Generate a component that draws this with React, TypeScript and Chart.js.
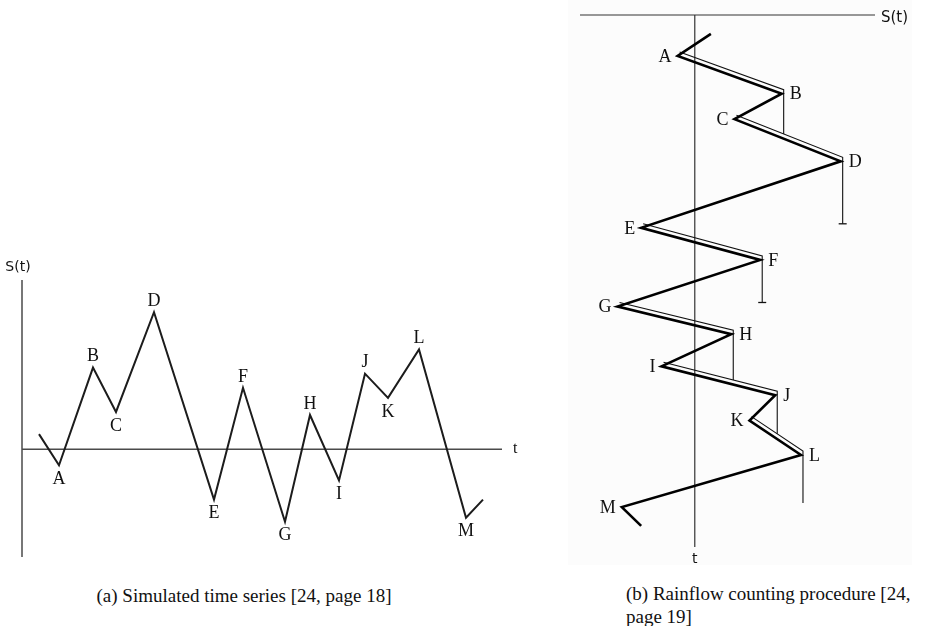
import React, { useEffect, useRef } from "react";
import { Chart, registerables } from "chart.js";

Chart.register(...registerables);

// Turning points of the load history (first and last entries are the unlabelled ends)
const pointNames = ["", "A", "B", "C", "D", "E", "F", "G", "H", "I", "J", "K", "L", "M", ""];
const timeValues = [1.7, 3.7, 7.1, 9.4, 13.2, 19.2, 22.1, 26.3, 28.8, 31.7, 34.3, 36.6, 39.7, 44.4, 46.1];
const stressValues = [1.5, -1.6, 8.1, 3.7, 13.6, -5.0, 6.1, -7.2, 3.4, -3.1, 7.5, 5.1, 9.9, -6.8, -5.0];

// Axis extents
const timeAxisEnd = 48;
const stressAxisMin = -10.7;
const stressAxisMax = 16.8;

// Rainflow paths: each flow starts at a trough, runs to the next peak, then drips down
const flowFrom = ["A", "C", "E", "G", "I", "K"];
const flowPeak = ["B", "D", "F", "H", "J", "L"];
// Where a drip stops: two letters = the later range it lands on, one letter = the point whose time halts it
const flowStop = ["CD", "E", "G", "IJ", "KL", "M"];
// Drips halted by a deeper trough end in a short bar
const flowCapped = [false, true, true, false, false, false];

const idx = (n: string) => pointNames.indexOf(n);

function stopTime(peak: number, stop: string): number {
  if (stop.length === 2) {
    const a = idx(stop[0]);
    const b = idx(stop[1]);
    const s = stressValues[peak];
    const f = (s - stressValues[a]) / (stressValues[b] - stressValues[a]);
    return timeValues[a] + f * (timeValues[b] - timeValues[a]);
  }
  return timeValues[idx(stop)];
}

type Title = { text: string; x: number; y: number; dx: number; dy: number; align: CanvasTextAlign; font: string };

function makeLabelPlugin(cfg: { side: boolean; peakGap: number; troughGap: number; font: string; titles: Title[] }) {
  return {
    id: "turningLabels",
    afterDatasetsDraw(chart: any) {
      const ctx: CanvasRenderingContext2D = chart.ctx;
      const meta = chart.getDatasetMeta(0);
      ctx.save();
      ctx.fillStyle = "#111";
      ctx.textBaseline = "middle";
      ctx.font = cfg.font;
      meta.data.forEach((el: any, i: number) => {
        const name = pointNames[i];
        if (!name) return;
        const peak = stressValues[i] > stressValues[i - 1];
        if (cfg.side) {
          ctx.textAlign = peak ? "left" : "right";
          ctx.fillText(name, el.x + (peak ? cfg.peakGap : -cfg.troughGap), el.y + 1);
        } else {
          ctx.textAlign = "center";
          ctx.fillText(name, el.x, el.y + (peak ? -cfg.peakGap : cfg.troughGap));
        }
      });
      cfg.titles.forEach((t) => {
        ctx.font = t.font;
        ctx.textAlign = t.align;
        const px = chart.scales.x.getPixelForValue(t.x) + t.dx;
        const py = chart.scales.y.getPixelForValue(t.y) + t.dy;
        ctx.fillText(t.text, px, py);
      });
      ctx.restore();
    },
  };
}

// Shifts the thin rainflow lines beside the load path
const flowOffset = {
  id: "flowOffset",
  beforeDatasetDraw(chart: any, args: any) {
    const ds = chart.data.datasets[args.index];
    if (ds.flow) {
      chart.ctx.save();
      chart.ctx.translate(2, -4);
    }
  },
  afterDatasetDraw(chart: any, args: any) {
    const ds = chart.data.datasets[args.index];
    if (ds.flow) chart.ctx.restore();
  },
};

function lineSet(data: { x: number; y: number }[], color: string, width: number, extra: any = {}) {
  return {
    data,
    borderColor: color,
    borderWidth: width,
    pointRadius: 0,
    fill: false,
    tension: 0,
    clip: false,
    borderJoinStyle: "miter",
    ...extra,
  };
}

function timeSeriesConfig(): any {
  const series = timeValues.map((t, i) => ({ x: t, y: stressValues[i] }));
  return {
    type: "line",
    data: {
      datasets: [
        lineSet(series, "#1c1c1c", 2),
        lineSet([{ x: 0, y: stressAxisMin }, { x: 0, y: stressAxisMax }], "#4a4a4a", 1.5),
        lineSet([{ x: 0, y: 0 }, { x: timeAxisEnd, y: 0 }], "#4a4a4a", 1.5),
      ],
    },
    options: {
      animation: false,
      responsive: false,
      events: [],
      layout: { padding: { left: 22, right: 38, top: 30, bottom: 23 } },
      plugins: { legend: { display: false }, tooltip: { enabled: false } },
      scales: {
        x: { type: "linear", min: 0, max: timeAxisEnd, display: false },
        y: { type: "linear", min: stressAxisMin, max: stressAxisMax, display: false },
      },
    },
    plugins: [
      makeLabelPlugin({
        side: false,
        peakGap: 11,
        troughGap: 14,
        font: "18px 'Liberation Serif'",
        titles: [
          { text: "t", x: timeAxisEnd, y: 0, dx: 11, dy: 0, align: "left", font: "16px 'Liberation Serif'" },
          { text: "S(t)", x: 0, y: stressAxisMax, dx: -4, dy: -13, align: "center", font: "14px 'DejaVu Sans'" },
        ],
      }),
    ],
  };
}

function rainflowConfig(): any {
  const series = timeValues.map((t, i) => ({ x: stressValues[i], y: t }));
  const flows = flowFrom.map((from, k) => {
    const a = idx(from);
    const p = idx(flowPeak[k]);
    const end = stopTime(p, flowStop[k]);
    return lineSet(
      [
        { x: stressValues[a], y: timeValues[a] },
        { x: stressValues[p], y: timeValues[p] },
        { x: stressValues[p], y: end },
      ],
      "#111",
      1.1,
      {
        flow: true,
        pointStyle: "line",
        pointRadius: [0, 0, flowCapped[k] ? 4 : 0],
        pointBorderWidth: 1.3,
        pointBorderColor: "#111",
      }
    );
  });
  return {
    type: "line",
    data: {
      datasets: [
        lineSet(series, "#000", 2.6),
        ...flows,
        lineSet([{ x: stressAxisMin, y: 0 }, { x: stressAxisMax, y: 0 }], "#333", 1.2),
        lineSet([{ x: 0, y: 0 }, { x: 0, y: timeAxisEnd }], "#333", 1.2),
      ],
    },
    options: {
      animation: false,
      responsive: false,
      events: [],
      layout: { padding: { left: 20, right: 51, top: 15, bottom: 33 } },
      plugins: { legend: { display: false }, tooltip: { enabled: false } },
      scales: {
        x: { type: "linear", min: stressAxisMin, max: stressAxisMax, display: false },
        y: { type: "linear", min: 0, max: timeAxisEnd, reverse: true, display: false },
      },
    },
    plugins: [
      flowOffset,
      makeLabelPlugin({
        side: true,
        peakGap: 8,
        troughGap: 6,
        font: "18px 'Liberation Serif'",
        titles: [
          { text: "S(t)", x: stressAxisMax, y: 0, dx: 6, dy: 3, align: "left", font: "15px 'DejaVu Sans'" },
          { text: "t", x: 0, y: timeAxisEnd, dx: 0, dy: 12, align: "center", font: "14px 'DejaVu Sans'" },
        ],
      }),
    ],
  };
}

function ChartCanvas(props: { make: () => any; left: number; top: number; width: number; height: number }) {
  const ref = useRef<HTMLCanvasElement | null>(null);
  useEffect(() => {
    if (!ref.current) return;
    const chart = new Chart(ref.current, props.make());
    return () => chart.destroy();
  }, []);
  return (
    <canvas
      ref={ref}
      width={props.width}
      height={props.height}
      style={{ position: "absolute", left: props.left, top: props.top, width: props.width, height: props.height }}
    />
  );
}

const captionStyle: React.CSSProperties = {
  position: "absolute",
  fontFamily: "'Liberation Serif', serif",
  fontSize: 19,
  color: "#111",
  whiteSpace: "nowrap",
};

export default function App() {
  return (
    <div style={{ position: "absolute", left: 0, top: 0, width: 926, height: 626, background: "#fff", overflow: "hidden" }}>
      <div style={{ position: "absolute", left: 568, top: 0, width: 344, height: 565, background: "#fcfcfc" }} />
      <ChartCanvas make={timeSeriesConfig} left={0} top={250} width={540} height={330} />
      <ChartCanvas make={rainflowConfig} left={560} top={0} width={366} height={580} />
      <div style={{ ...captionStyle, left: 0, width: 488, top: 585, lineHeight: "22px", textAlign: "center" }}>
        (a) Simulated time series [24, page 18]
      </div>
      <div style={{ ...captionStyle, left: 626, top: 582, lineHeight: "23px" }}>
        (b) Rainflow counting procedure [24,
        <br />
        page 19]
      </div>
    </div>
  );
}
